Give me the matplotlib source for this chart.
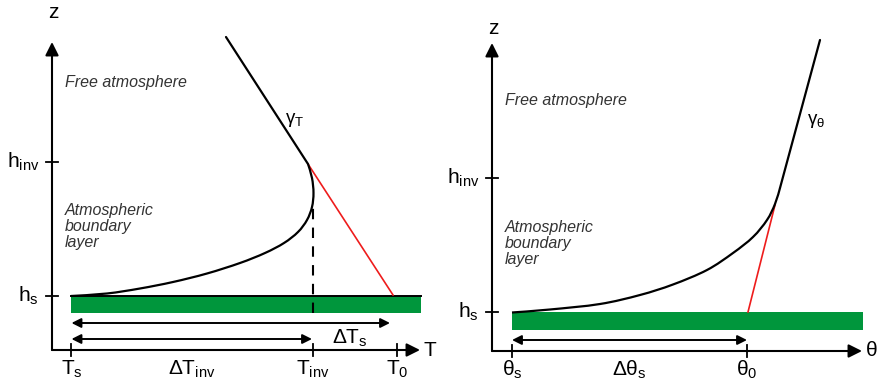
import numpy as np
import matplotlib
matplotlib.use("Agg")
import matplotlib.pyplot as plt
from matplotlib.path import Path
from matplotlib.patches import PathPatch, Rectangle

plt.rcParams['font.family'] = ['Liberation Sans', 'DejaVu Sans']
plt.rcParams['mathtext.fontset'] = 'custom'
plt.rcParams['mathtext.rm'] = 'Liberation Sans'
plt.rcParams['mathtext.it'] = 'Liberation Sans:italic'

# ---------------- left panel: temperature profile ----------------
T_ticks = [19.5, 261, 345]          # T_s, T_inv, T_0
T_tick_labels = [r'$\mathrm{T}_\mathrm{s}$', r'$\mathrm{T}_\mathrm{inv}$', r'$\mathrm{T}_\mathrm{0}$']
T_axis_end = 368
zL_ticks = [54, 188]                # h_s, h_inv
zL_top = 308
T_bar = [19.5, 369]
T_bar_z = [37, 54]
T_abl_x = [19, 55, 88, 121, 155, 188, 213, 232, 246, 255, 260, 261.5, 260, 256]
T_abl_z = [54, 56.5, 61.5, 68, 76.5, 87, 97, 107, 118, 130, 143, 157, 172, 186]
T_free_x = [256, 174]
T_free_z = [186, 313]
T_red_x = [256, 341]
T_red_z = [186, 55]
T_dash_z = [37, 145]
dTs_arrow = [19.5, 338, 27]
dTinv_arrow = [19.5, 260, 11]

# ---------------- right panel: potential temperature ----------------
th_ticks = [20, 255]                # theta_s, theta_0
th_tick_labels = [r'$\mathrm{θ}_\mathrm{s}$', r'$\mathrm{θ}_\mathrm{0}$']
th_axis_end = 370
zR_ticks = [39, 173]
zR_top = 308
th_bar = [20, 371]
th_bar_z = [21, 39]
th_abl_x = [20, 58, 108, 148, 181, 215, 241, 261, 275, 283, 288]
th_abl_z = [38.5, 41.5, 47, 56, 66.5, 81, 98, 114, 131, 147, 163]
th_free_x = [288, 328]
th_free_z = [163, 311]
th_red_x = [256, 283]
th_red_z = [39, 146]
dth_arrow = [20, 255, 11]

h_labels = [r'$\mathrm{h}_\mathrm{s}$', r'$\mathrm{h}_\mathrm{inv}$']

GREEN = '#00963c'
RED = '#ee1c1c'
TXT = '#333333'


def smooth_path(xs, ys):
    pts = np.column_stack([xs, ys]).astype(float)
    verts = [pts[0]]
    codes = [Path.MOVETO]
    n = len(pts)
    for i in range(n - 1):
        p0 = pts[i - 1] if i > 0 else pts[i]
        p1 = pts[i]
        p2 = pts[i + 1]
        p3 = pts[i + 2] if i + 2 < n else pts[i + 1]
        verts += [p1 + (p2 - p0) / 6.0, p2 - (p3 - p1) / 6.0, p2]
        codes += [Path.CURVE4] * 3
    return Path(verts, codes)


def arrow(ax, x0, y0, x1, y1, style='-|>', ms=16, lw=1.5):
    ax.annotate('', xy=(x1, y1), xytext=(x0, y0),
                arrowprops=dict(arrowstyle=style, mutation_scale=ms, lw=lw,
                                color='black', shrinkA=0, shrinkB=0),
                annotation_clip=False)


fig = plt.figure(figsize=(8.79, 3.86), dpi=100)
axL = fig.add_axes([0, 0, 440 / 879, 1])
axR = fig.add_axes([440 / 879, 0, 439 / 879, 1])
axL.set_xlim(-52, 388)
axL.set_ylim(-36, 350)
axR.set_xlim(-52, 387)
axR.set_ylim(-35, 351)
for ax in (axL, axR):
    ax.set_axis_off()

FS = 15


def draw_panel(ax, xticks, xlabels, xend, zticks, ztop, bar, barz,
               ax_x, ax_z, fr_x, fr_z, red_x, red_z, xname, gname, gpos,
               abl_top, free_z, top_line, z_lab):
    # axes with arrows
    arrow(ax, 0, 0, 0, ztop, ms=20)
    arrow(ax, 0, 0, xend, 0, ms=20)
    ax.text(1, z_lab, 'z', fontsize=FS, ha='center', va='center')
    ax.text(xend + 4, 0, xname, fontsize=FS, ha='left', va='center')
    # ticks
    for z, lab in zip(zticks, h_labels):
        ax.plot([-6, 6], [z, z], color='black', lw=1.3)
        ax.text(-13, z, lab, fontsize=FS, ha='right', va='center')
    for x, lab in zip(xticks, xlabels):
        ax.plot([x, x], [-6, 6], color='black', lw=1.3)
        ax.text(x, -19, lab, fontsize=FS, ha='center', va='center')
    # ground bar
    ax.add_patch(Rectangle((bar[0], barz[0]), bar[1] - bar[0], barz[1] - barz[0],
                           facecolor=GREEN, edgecolor='none', zorder=1))
    if top_line:
        ax.plot(bar, [barz[1], barz[1]], color='black', lw=1.4, zorder=2)
    # profile
    ax.add_patch(PathPatch(smooth_path(ax_x, ax_z), facecolor='none',
                           edgecolor='black', lw=1.6, zorder=3))
    ax.plot(fr_x, fr_z, color='black', lw=1.6, zorder=3, solid_capstyle='round')
    ax.plot(red_x, red_z, color=RED, lw=1.2, zorder=2)
    ax.text(gpos[0], gpos[1], gname, fontsize=13.5, ha='left', va='center')
    ax.text(13, free_z, 'Free atmosphere', fontsize=11.5, style='italic',
            color=TXT, ha='left', va='center')
    ax.text(13, abl_top, 'Atmospheric\nboundary\nlayer', fontsize=11.5,
            style='italic', color=TXT, ha='left', va='top', linespacing=1.08)


draw_panel(axL, T_ticks, T_tick_labels, T_axis_end, zL_ticks, zL_top,
           T_bar, T_bar_z, T_abl_x, T_abl_z, T_free_x, T_free_z,
           T_red_x, T_red_z, 'T', r'$\mathrm{γ}_\mathrm{T}$', (233, 230),
           147, 267, True, 337)
draw_panel(axR, th_ticks, th_tick_labels, th_axis_end, zR_ticks, zR_top,
           th_bar, th_bar_z, th_abl_x, th_abl_z, th_free_x, th_free_z,
           th_red_x, th_red_z, 'θ', r'$\mathrm{γ}_\mathrm{θ}$', (315, 230),
           131, 251, False, 323)

# dashed T_inv line
axL.plot([T_ticks[1], T_ticks[1]], T_dash_z, color='black', lw=1.5,
         dashes=(5, 4), zorder=4)

# difference arrows
arrow(axL, dTs_arrow[0], dTs_arrow[2], dTs_arrow[1], dTs_arrow[2], style='<|-|>', ms=14, lw=1.4)
arrow(axL, dTinv_arrow[0], dTinv_arrow[2], dTinv_arrow[1], dTinv_arrow[2], style='<|-|>', ms=14, lw=1.4)
axL.text(298, 12, r'$\mathrm{ΔT}_\mathrm{s}$', fontsize=FS, ha='center', va='center')
axL.text((T_ticks[0] + T_ticks[1]) / 2, -19, r'$\mathrm{ΔT}_\mathrm{inv}$', fontsize=FS,
         ha='center', va='center')
arrow(axR, dth_arrow[0], dth_arrow[2], dth_arrow[1], dth_arrow[2], style='<|-|>', ms=14, lw=1.4)
axR.text((th_ticks[0] + th_ticks[1]) / 2, -19, r'$\mathrm{Δθ}_\mathrm{s}$', fontsize=FS,
         ha='center', va='center')

fig.savefig('out.png', dpi=100)
